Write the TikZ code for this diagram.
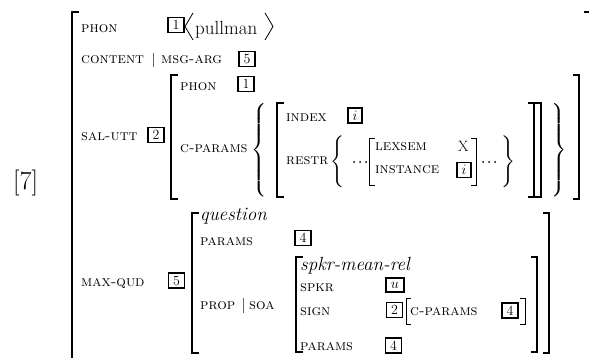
\documentclass[tikz,border=0pt]{standalone}
\usepackage{tikz}
\usepackage{exscale}
\newcommand\TBraceL[1]{{\delimiterfactor=1001 \delimitershortfall=0pt$\left\{\vcenter{\hbox{\rule{0pt}{#1}}}\right.$}}
\newcommand\TBraceR[1]{{\delimiterfactor=1001 \delimitershortfall=0pt$\left.\vcenter{\hbox{\rule{0pt}{#1}}}\right\}$}}
\begin{document}
\begin{tikzpicture}[x=1pt,y=-1pt,
 lab/.style={anchor=base west, inner sep=0, font=\fontsize{15}{18}\selectfont\scshape},
 typ/.style={anchor=base west, inner sep=0, font=\fontsize{19}{22}\selectfont\itshape},
 tag/.style={draw, line width=1.4pt, inner sep=0, minimum width=16pt, minimum height=15pt, font=\fontsize{14}{14}\selectfont},
 brk/.style={line width=1.4pt},
 thinbrk/.style={line width=0.9pt},
 bracenode/.style={inner sep=0, font=\fontsize{19}{22}\selectfont},
 bar/.style={line width=0.9pt, black!60},
 ang/.style={line width=0.8pt}]
\useasboundingbox (0,0) rectangle (589,358);
% number
\node[anchor=base west, inner sep=0, font=\fontsize{26}{30}\selectfont] (num) at (13,190) {[7]};
% outer brackets
\draw[brk] (79,12) -| (72,362);
\draw[brk] (584,12) -| (590,362);
% row PHON
\node[lab] (phon1) at (81,33) {phon};
\node[tag] (t1a) at (176,25) {1};
\draw[ang] (193,13) -- (185,26.5) -- (193,40);
\node[anchor=base west, inner sep=0, font=\fontsize{19}{22}\selectfont] (pull) at (195,35) {pullman};
\draw[ang] (265,13) -- (273,26.5) -- (265,40);
% row CONTENT
\node[lab] (cont) at (81,64) {content};
\draw[bar] (153,53) -- (153,67);
\node[lab] (msg) at (161,64) {msg-arg};
\node[tag] (t5a) at (247,59) {5};
% SAL-UTT
\node[lab] (sal) at (81,141) {sal-utt};
\node[tag] (t2a) at (156,135) {2};
\draw[brk] (178,75) -| (171,199) -- (178,199);
\draw[brk] (573,75) -| (579,199) -- (573,199);
\node[lab] (phon2) at (180,91) {phon};
\node[tag] (t1b) at (246,84) {1};
\node[lab] (cpar) at (180,153) {c-params};
\node[bracenode, anchor=west] (lb1) at (251,150) {\TBraceL{86pt}};
\node[bracenode, anchor=east] (rb1) at (567,150) {\TBraceR{86pt}};
% INDEX avm
\draw[brk] (284,103) -| (277,197) -- (284,197);
\draw[brk] (528,103) -| (534,197) -- (528,197);
\draw[brk] (535,103) -| (541,197) -- (535,197);
\node[lab] (idx) at (286,122) {index};
\node[tag, minimum width=14pt] (tia) at (355,115.5) {$i$};
\node[lab] (restr) at (286,165) {restr};
\node[bracenode, anchor=west] (lb2) at (330,162) {\TBraceL{48pt}};
\fill (354,162) circle (1) (360,162) circle (1) (366,162) circle (1);
\draw[thinbrk] (375,138) -| (369,185) -- (375,185);
\node[lab] (lex) at (375,151) {lexsem};
\node[lab] (inst) at (375,174) {instance};
\node[anchor=base west, inner sep=0, font=\fontsize{15}{18}\selectfont] (xx) at (458,152) {X};
\node[tag, minimum width=14pt] (tib) at (464,170) {$i$};
\draw[thinbrk] (471,138) -| (476,185) -- (471,185);
\fill (483,162) circle (1) (489,162) circle (1) (495,162) circle (1);
\node[bracenode, anchor=east] (rb2) at (516,162) {\TBraceR{48pt}};
% MAX-QUD
\node[lab] (mq) at (81,286) {max-qud};
\node[tag] (t5b) at (176.5,280.5) {5};
\draw[brk] (199,213) -| (192,353) -- (199,353);
\draw[brk] (543,213) -| (549,353) -- (543,353);
\node[typ] (q) at (200,221) {question};
\node[lab] (par1) at (200,246) {params};
\node[tag] (t4a) at (303,238) {4};
\node[lab] (prop) at (200,309) {prop};
\draw[bar] (243,298) -- (243,313);
\node[lab] (soa) at (249,309) {soa};
% spkr-mean-rel
\draw[brk] (303,257) -| (296,352) -- (303,352);
\draw[brk] (531,257) -| (537,352) -- (531,352);
\node[typ] (smr) at (300,270) {spkr-mean-rel};
\node[lab] (spkr) at (300,291) {spkr};
\node[tag, minimum width=18pt, minimum height=14pt] (tu) at (395,285) {$u$};
\node[lab] (sign) at (300,315) {sign};
\node[tag] (t2b) at (394.5,310) {2};
\draw[thinbrk] (411,298) -| (406,324) -- (411,324);
\node[lab] (cpar2) at (410,315) {c-params};
\node[tag] (t4b) at (510,310.5) {4};
\draw[thinbrk] (520,298) -| (525,324) -- (520,324);
\node[lab] (par2) at (300,350) {params};
\node[tag] (t4c) at (393.5,345.5) {4};
\end{tikzpicture}
\end{document}
